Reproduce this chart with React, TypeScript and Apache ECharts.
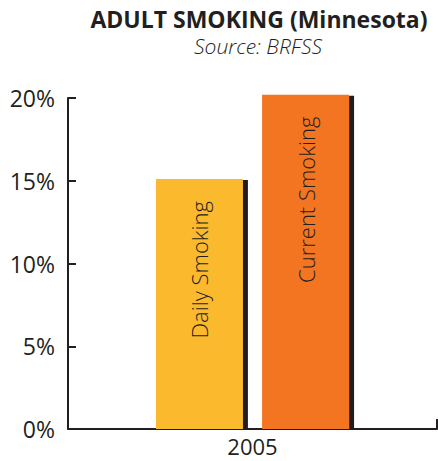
import React, { useEffect, useRef } from "react";
import * as echarts from "echarts";

const categories = ["2005"];
const seriesNames = ["Daily Smoking", "Current Smoking"];
const dailySmoking = [15.1];
const currentSmoking = [20.2];
const yTicks = { min: 0, max: 20, interval: 5 };

const TEXT = "#231f20";
const FONT = "'Open Sans', 'Noto Sans', sans-serif";

export default function App() {
  const ref = useRef<HTMLDivElement>(null);
  useEffect(() => {
    if (!ref.current) return;
    const chart = echarts.init(ref.current, undefined, { renderer: "svg" });
    const barLabel = {
      show: true,
      position: "insideTop",
      rotate: 90,
      align: "right",
      verticalAlign: "middle",
      distance: 22,
      formatter: "{a}",
      color: TEXT,
      fontFamily: FONT,
      fontSize: 22,
      fontWeight: 300,
    };
    const shadow = {
      shadowColor: TEXT,
      shadowBlur: 0,
      shadowOffsetX: 5,
      shadowOffsetY: 1,
    };
    chart.setOption({
      animation: false,
      graphic: [
        {
          type: "text",
          style: {
            text: "ADULT SMOKING (Minnesota)",
            x: 259,
            y: 19,
            align: "center",
            verticalAlign: "middle",
            fontFamily: FONT,
            fontWeight: "bold",
            fontSize: 23,
            lineHeight: 23,
            fill: TEXT,
          },
        },
        {
          type: "text",
          style: {
            text: "Source: BRFSS",
            x: 258,
            y: 46,
            align: "center",
            verticalAlign: "middle",
            fontFamily: FONT,
            fontStyle: "italic",
            fontWeight: 300,
            fontSize: 21,
            lineHeight: 21,
            fill: TEXT,
          },
        },
      ],
      grid: { left: 68, right: 1, top: 98, bottom: 32, containLabel: false },
      xAxis: {
        type: "category",
        data: categories,
        axisLine: { lineStyle: { color: TEXT, width: 2 } },
        axisTick: { show: true, inside: true, length: 10, lineStyle: { color: TEXT, width: 2 } },
        axisLabel: { color: TEXT, fontFamily: FONT, fontSize: 22, lineHeight: 22, margin: 6 },
      },
      yAxis: {
        type: "value",
        min: yTicks.min,
        max: yTicks.max,
        interval: yTicks.interval,
        splitLine: { show: false },
        axisLine: { show: true, lineStyle: { color: TEXT, width: 2 } },
        axisTick: { show: true, inside: true, length: 8, lineStyle: { color: TEXT, width: 2 } },
        axisLabel: {
          color: TEXT,
          fontFamily: FONT,
          fontSize: 23,
          margin: 13,
          formatter: "{value}%",
          padding: [0, 0, 10, 0],
        },
      },
      series: [
        {
          name: seriesNames[0],
          type: "bar",
          data: dailySmoking,
          barWidth: 87,
          barGap: "22%",
          clip: false,
          itemStyle: { color: "#fbb92e", ...shadow },
          label: barLabel,
        },
        {
          name: seriesNames[1],
          type: "bar",
          data: currentSmoking,
          barWidth: 87,
          barGap: "22%",
          clip: false,
          itemStyle: { color: "#f37421", ...shadow },
          label: barLabel,
        },
      ],
    });
    return () => chart.dispose();
  }, []);
  return (
    <div
      ref={ref}
      style={{ position: "absolute", left: 0, top: 0, width: 438, height: 461 }}
    />
  );
}
